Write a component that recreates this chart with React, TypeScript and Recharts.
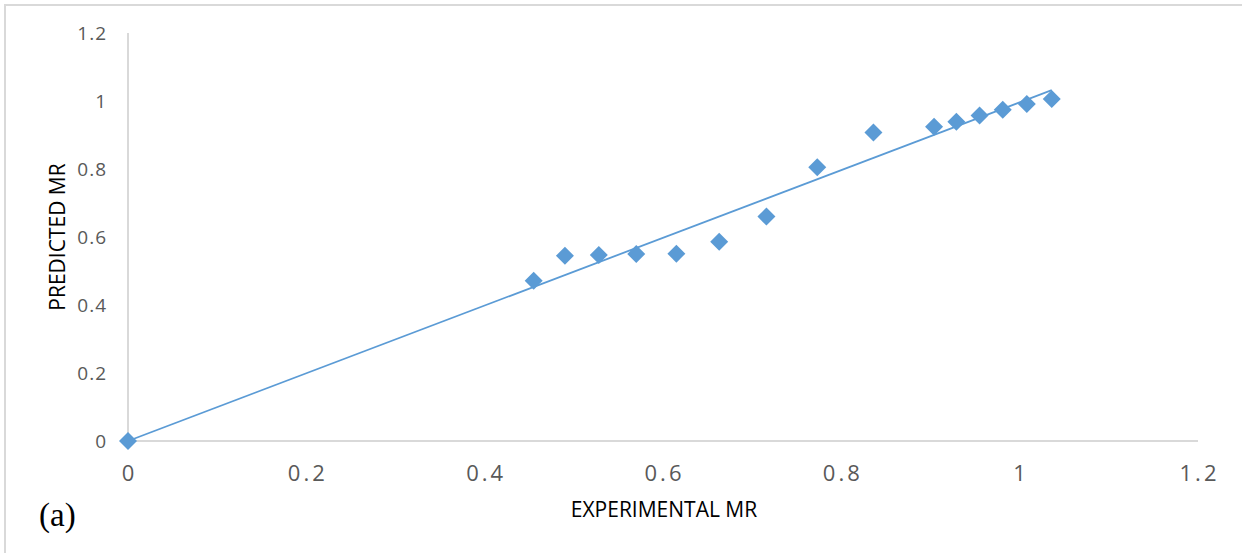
import { ScatterChart, Scatter, XAxis, YAxis, Label } from 'recharts';

const experimentalMR = [0, 0.455, 0.49, 0.528, 0.57, 0.615, 0.663, 0.716, 0.773, 0.836, 0.904, 0.929, 0.955, 0.981, 1.008, 1.036];
const predictedMR = [0, 0.471, 0.545, 0.547, 0.55, 0.551, 0.586, 0.66, 0.805, 0.907, 0.924, 0.939, 0.957, 0.974, 0.991, 1.006];

// linear trendline end points
const trendX = [0, 1.036];
const trendY = [0, 1.032];

const axisTicks = [0, 0.2, 0.4, 0.6, 0.8, 1, 1.2];

const points = experimentalMR.map((x, i) => ({ x, y: predictedMR[i] }));
const trend = trendX.map((x, i) => ({ x, y: trendY[i] }));

const BLUE = '#5b9bd5';
const GRID = '#d9d9d9';
const FONT = '"Open Sans", sans-serif';

const Diamond = (props: any) => {
  const { cx, cy } = props;
  const r = 9;
  return <path d={`M${cx} ${cy - r}L${cx + r} ${cy}L${cx} ${cy + r}L${cx - r} ${cy}Z`} fill={BLUE} />;
};

const YTitle = (props: any) => {
  const { x, y, height } = props.viewBox;
  const cx = x + 57;
  const cy = y + height / 2;
  return (
    <text
      x={cx}
      y={cy}
      transform={`rotate(-90, ${cx}, ${cy})`}
      textAnchor="middle"
      dominantBaseline="central"
      fontFamily={FONT}
      fontSize={21}
      fill="#000"
    >
      PREDICTED MR
    </text>
  );
};

const XTitle = (props: any) => {
  const { x, y, width } = props.viewBox;
  return (
    <g>
      <text
        x={x + width / 2 + 1}
        y={y + 76}
        textAnchor="middle"
        fontFamily={FONT}
        fontSize={21}
        fill="#000"
      >
        EXPERIMENTAL MR
      </text>
      <text x={39} y={526} fontFamily='"Liberation Serif", "Times New Roman", serif' fontSize={33} fill="#000">
        (a)
      </text>
    </g>
  );
};

export default function App() {
  return (
    <div style={{ position: 'absolute', left: 0, top: 0, width: 1242, height: 553, background: '#fff' }}>
      <div
        style={{
          position: 'absolute',
          left: 4,
          top: 4,
          right: 0,
          bottom: 0,
          borderTop: `2px solid ${GRID}`,
          borderLeft: `2px solid ${GRID}`,
        }}
      />
      <ScatterChart
        width={1242}
        height={553}
        margin={{ top: 33, right: 44, bottom: 0, left: 0 }}
        style={{ position: 'absolute', left: 0, top: 0 }}
      >
        <XAxis
          type="number"
          dataKey="x"
          domain={[0, 1.2]}
          ticks={axisTicks}
          axisLine={{ stroke: GRID, strokeWidth: 2 }}
          tickLine={false}
          tickSize={0}
          tickMargin={24}
          tick={{ fill: '#595959', fontFamily: FONT, fontSize: 22, letterSpacing: 3, dx: 1.5 }}
          height={112}
          label={<Label content={XTitle} />}
        />
        <YAxis
          type="number"
          dataKey="y"
          domain={[0, 1.2]}
          ticks={axisTicks}
          axisLine={{ stroke: GRID, strokeWidth: 2 }}
          tickLine={false}
          tickSize={0}
          tickMargin={21}
          tick={{ fill: '#595959', fontFamily: FONT, fontSize: 19, letterSpacing: 1 }}
          width={128}
          label={<Label content={YTitle} />}
        />
        <Scatter
          data={trend}
          line={{ stroke: BLUE, strokeWidth: 1.8 }}
          shape={() => <g />}
          isAnimationActive={false}
        />
        <Scatter data={points} shape={Diamond} isAnimationActive={false} />
      </ScatterChart>
    </div>
  );
}
